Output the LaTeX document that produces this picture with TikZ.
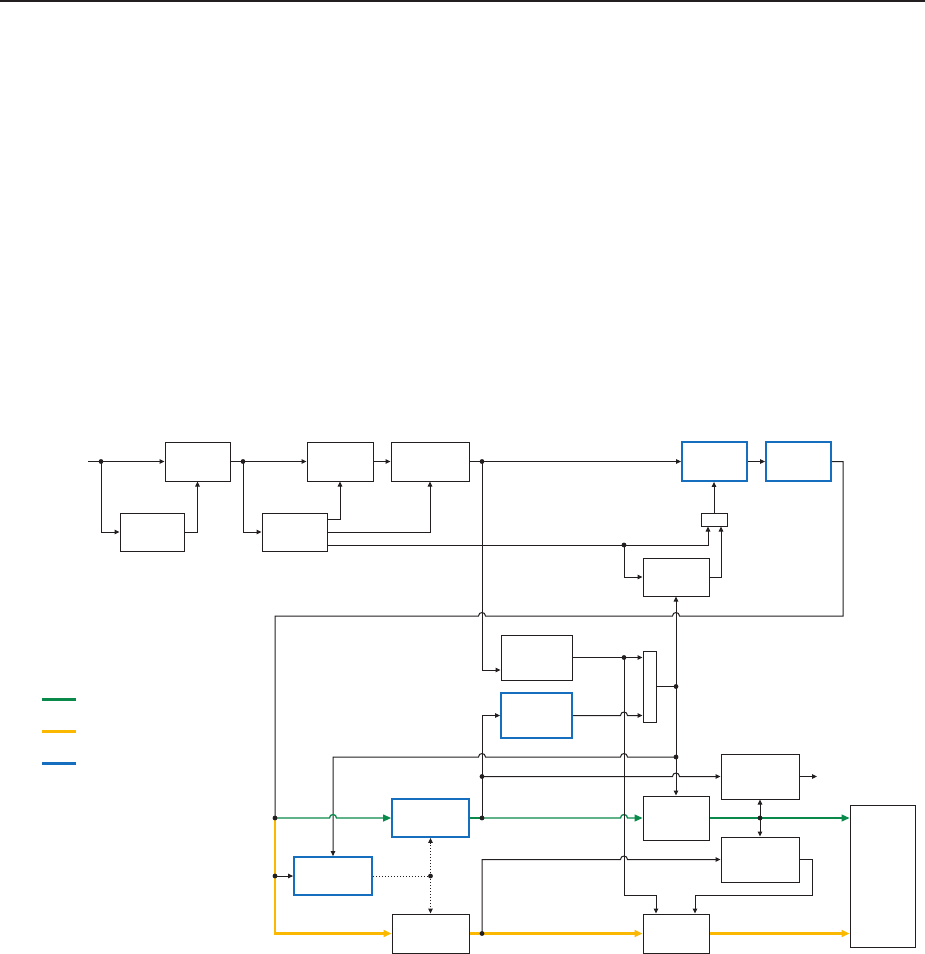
\documentclass[tikz,border=0pt]{standalone}
\usetikzlibrary{arrows.meta}
\definecolor{cg}{RGB}{10,138,74}
\definecolor{cy}{RGB}{250,185,0}
\definecolor{cb}{RGB}{22,110,190}
\definecolor{ck}{RGB}{35,31,32}
\newcommand{\jr}[2]{-- ({#1-3.5},#2) .. controls ({#1-3.5},{#2-4.6}) and ({#1+3.5},{#2-4.6}) .. ({#1+3.5},#2)}
\tikzset{
  ln/.style={draw=ck, line width=1pt},
  gl/.style={draw=cg, line width=1.3pt},
  yl/.style={draw=cy, line width=2.2pt},
  dl/.style={draw=ck, line width=1pt, dotted},
  arr/.style={-{Triangle[length=5pt,width=4.5pt]}},
  rarr/.style={{Triangle[length=5pt,width=4.5pt]}-},
  garr/.style={-{Triangle[length=8pt,width=7pt]}},
  yarr/.style={-{Triangle[length=8pt,width=7pt]}},
  box/.style={draw=ck, line width=1pt, inner sep=0pt, fill=white},
  bbox/.style={draw=cb, line width=1.8pt, inner sep=0pt, fill=white},
  dot/.style={fill=ck}
}
\begin{document}
\begin{tikzpicture}[x=1pt,y=-1pt]
\useasboundingbox (0,0) rectangle (925,954);
\fill[ck] (0,0) rectangle (925,2.2);

% boxes
\node[box, minimum width=65pt, minimum height=39pt] (A) at (197.5,461.5) {};
\node[box, minimum width=64pt, minimum height=38pt] (B) at (152,532) {};
\node[box, minimum width=66pt, minimum height=39pt] (C) at (340,461.5) {};
\node[box, minimum width=78pt, minimum height=39pt] (D) at (430,461.5) {};
\node[box, minimum width=65pt, minimum height=38pt] (E) at (294.5,532) {};
\node[bbox, minimum width=65pt, minimum height=39pt] (F) at (714.5,461.5) {};
\node[bbox, minimum width=65pt, minimum height=39pt] (G) at (798.5,461.5) {};
\node[box, minimum width=26pt, minimum height=13pt] (S) at (714,519.5) {};
\node[box, minimum width=66pt, minimum height=38pt] (H) at (676,577) {};
\node[box, minimum width=71pt, minimum height=45pt] (I) at (536.5,657.5) {};
\node[bbox, minimum width=71pt, minimum height=45pt] (Ib) at (536.5,715.5) {};
\node[box, minimum width=13pt, minimum height=71pt] (Mux) at (649.5,686.5) {};
\node[box, minimum width=78pt, minimum height=45pt] (M) at (760,776.5) {};
\node[box, minimum width=66pt, minimum height=44pt] (J) at (676,818) {};
\node[box, minimum width=78pt, minimum height=45pt] (P) at (760,859.5) {};
\node[box, minimum width=66pt, minimum height=39pt] (N) at (676,933.5) {};
\node[box, minimum width=65pt, minimum height=142pt] (R) at (882.5,876) {};
\node[bbox, minimum width=77pt, minimum height=38pt] (L) at (430.5,818) {};
\node[bbox, minimum width=78pt, minimum height=38pt] (K) at (333,876) {};
\node[box, minimum width=77pt, minimum height=39pt] (Q) at (430.5,933.5) {};

% coordinates
\coordinate (in) at (88,461.5);
\coordinate (out) at (817,776.5);
\coordinate (d1) at (101,461.5);
\coordinate (d2) at (243,461.5);
\coordinate (d4) at (482,461.5);
\coordinate (d3) at (624,545);
\coordinate (d5) at (624,657.5);
\coordinate (d6) at (676,686.5);
\coordinate (d7) at (676,757);
\coordinate (d8) at (482,776.5);
\coordinate (d9) at (482,818);
\coordinate (d10) at (275,818);
\coordinate (d11) at (760,818);
\coordinate (d12) at (482,933.5);
\coordinate (d13) at (275,876);
\coordinate (d14) at (430.5,876);

% top chain
\draw[ln,arr] (in) -- (A.west);
\draw[ln,arr] (d1) |- (B.west);
\draw[ln,arr] (B.east) -| (A.south);
\draw[ln,arr] (A.east) -- (C.west);
\draw[ln,arr] (d2) |- (E.west);
\draw[ln,arr] (E.east |- 0,519) -| (C.south);
\draw[ln,arr] (E.east) -| (D.south);
\draw[ln,arr] (E.east |- 0,545) -| ([xshift=-6pt]S.south);
\draw[ln,arr] (d3) |- (H.west);
\draw[ln,arr] (H.east) -| ([xshift=7pt]S.south);
\draw[ln,arr] (S.north) -- (S.north |- F.south);
\draw[ln,arr] (C.east) -- (D.west);
\draw[ln,arr] (D.east) -- (F.west);
\draw[ln,arr] (F.east) -- (G.west);
\draw[ln] (d10) -- (275,616) \jr{482}{616} \jr{676}{616} -- (843,616) |- (G.east);

% middle
\draw[ln,arr] (d4) |- (I.west |- 0,670);
\draw[ln,arr] (I.east) -- (I.east -| Mux.west);
\draw[ln,arr] (Ib.east) \jr{624}{715.5} -- (Ib.east -| Mux.west);
\draw[ln] (Mux.east) -- (d6);
\draw[ln,arr] (d6) -- (H.south);
\draw[ln,arr] (d6) -- (J.north);
\draw[ln,rarr] (K.north) -- (333,757) \jr{482}{757} \jr{624}{757} -- (d7);
\draw[ln,arr] (d8) \jr{676}{776.5} -- (M.west);
\draw[ln,arr] (M.east) -- (out);
\draw[ln,arr] (d9) |- (Ib.west);

% green path
\draw[gl,garr] (d10) \jr{333}{818} -- (L.west);
\draw[gl] (L.east) -- (d9);
\draw[gl,garr] (d9) \jr{624}{818} -- (J.west);
\draw[gl] (J.east) -- (d11);
\draw[gl,garr] (d11) -- (d11 -| R.west);
\draw[ln,arr] (d11) -- (M.south);
\draw[ln,arr] (d11) -- (P.north);

% yellow path
\draw[yl,yarr] (d10) |- (Q.west);
\draw[yl] (Q.east) -- (d12);
\draw[yl,yarr] (d12) -- (N.west);
\draw[yl,yarr] (N.east) -- (N.east -| R.west);

% lower black
\draw[ln,arr] (d12) -- (482,859.5) \jr{624}{859.5} -- (P.west);
\draw[ln,arr] (P.east) -- (812,859.5) -- (812,895) -| ([xshift=19pt]N.north);
\draw[ln,arr] (d5) -- (624,895) -| ([xshift=-20pt]N.north);
\draw[ln,arr] (d13) -- (K.west);

% dotted
\draw[dl] (K.east) -- (d14);
\draw[dl,arr] (d14) -- (L.south);
\draw[dl,arr] (d14) -- (Q.north);

% dots
\foreach \d in {d1,d2,d3,d4,d5,d6,d7,d8,d9,d10,d11,d12,d13,d14}
  \fill[dot] (\d) circle (2.4pt);

% legend
\draw[cg, line width=3pt] (42,699) -- (76,699);
\draw[cy, line width=3pt] (42,731) -- (76,731);
\draw[cb, line width=3pt] (42,763) -- (76,763);
\end{tikzpicture}
\end{document}
